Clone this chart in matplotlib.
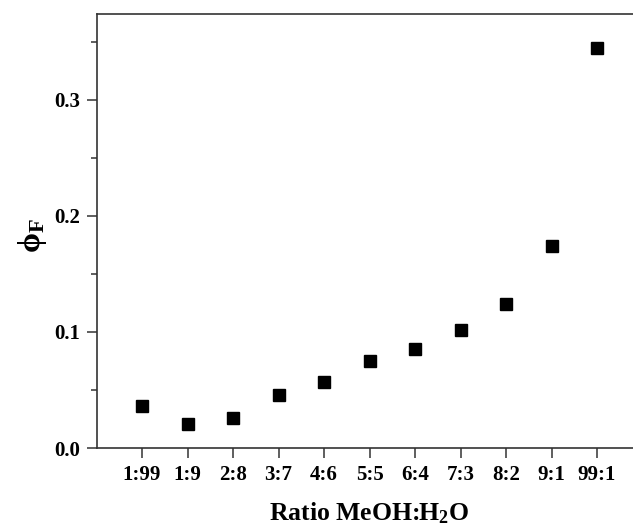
import matplotlib
matplotlib.use("Agg")
import matplotlib.pyplot as plt
from matplotlib.ticker import MultipleLocator, FormatStrFormatter

ratios = ["1:99", "1:9", "2:8", "3:7", "4:6", "5:5", "6:4", "7:3", "8:2", "9:1", "99:1"]
phi_f = [0.036, 0.021, 0.026, 0.046, 0.057, 0.075, 0.085, 0.102, 0.124, 0.174, 0.345]

plt.rcParams["font.family"] = "Liberation Serif"
plt.rcParams["font.weight"] = "bold"
plt.rcParams["mathtext.fontset"] = "custom"
plt.rcParams["mathtext.rm"] = "Liberation Serif:bold"
plt.rcParams["mathtext.it"] = "Liberation Serif:bold"
plt.rcParams["mathtext.bf"] = "Liberation Serif:bold"

fig = plt.figure(figsize=(6.33, 5.29), dpi=100)
ax = fig.add_axes([0.1525, 0.1531, 0.8475, 0.8204])

x = list(range(1, len(ratios) + 1))
ax.plot(x, phi_f, linestyle="none", marker="s", markersize=8.6, color="black")

ax.set_xlim(0, 11.79)
ax.set_ylim(0, 0.374)
ax.set_xticks(x)
ax.set_xticklabels(ratios)
ax.yaxis.set_major_locator(MultipleLocator(0.1))
ax.yaxis.set_minor_locator(MultipleLocator(0.05))
ax.yaxis.set_major_formatter(FormatStrFormatter("%.1f"))

for s in ["left", "bottom", "top"]:
    ax.spines[s].set_linewidth(1.2)
    ax.spines[s].set_color("#333333")
ax.spines["right"].set_visible(False)

ax.tick_params(axis="both", which="major", direction="out", length=7, width=1.1,
               color="#333333", labelsize=15, pad=5)
ax.tick_params(axis="y", which="minor", direction="out", length=4, width=1.1, color="#333333")

ax.set_xlabel(r"Ratio MeOH:H$\mathbf{_2}$O", fontsize=18.5, fontweight="bold")
ax.xaxis.set_label_coords(0.508, -0.12)
ax.set_ylabel(r"$\mathbf{ϕ_F}$", fontsize=23)
ax.yaxis.set_label_coords(-0.088, 0.49)

fig.savefig("out.png", dpi=100)
